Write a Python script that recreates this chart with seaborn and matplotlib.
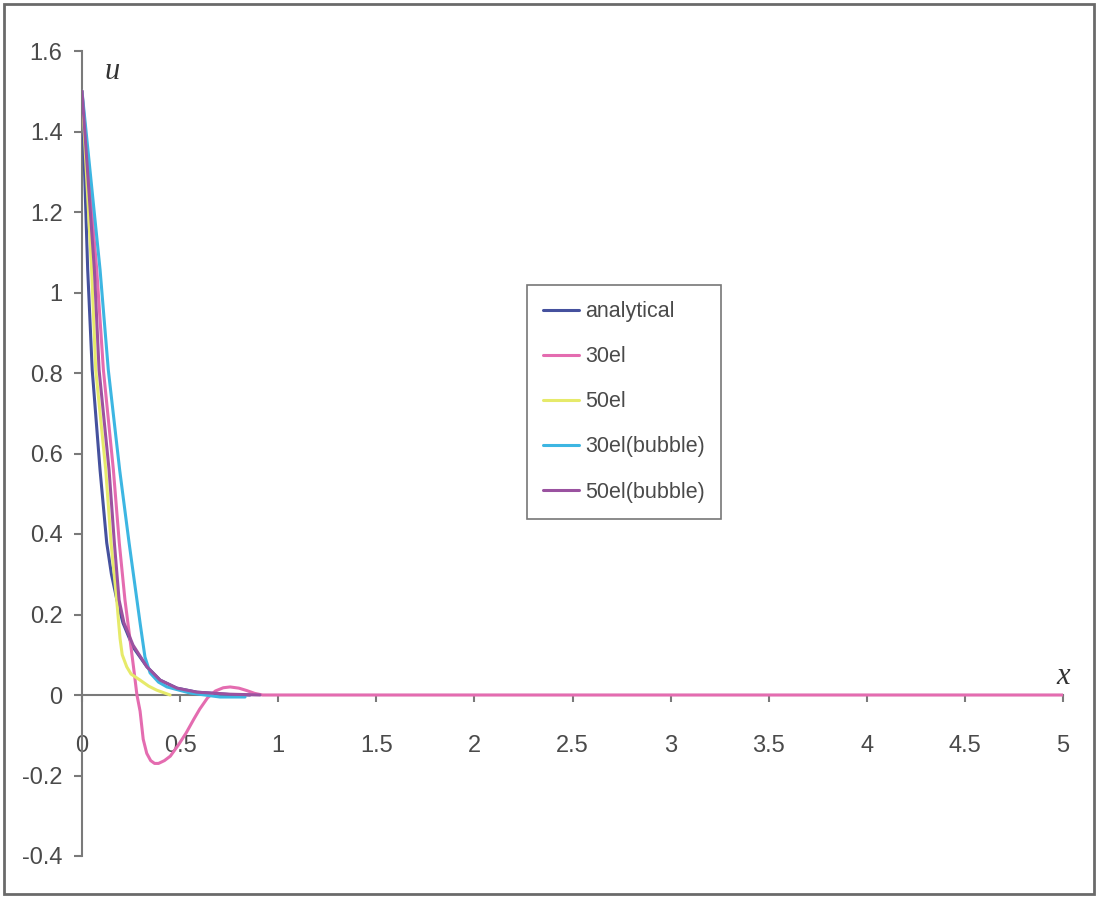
import numpy as np
import pandas as pd
import matplotlib
matplotlib.use("Agg")
import matplotlib.pyplot as plt
import seaborn as sns
from matplotlib.patches import Rectangle

# ---- data ----
series_names = ["analytical", "30el", "50el", "30el(bubble)", "50el(bubble)"]

x_analytical = [0.0, 0.029, 0.052, 0.092, 0.126, 0.150, 0.178, 0.209, 0.260, 0.331, 0.398, 0.484, 0.586, 0.754, 0.856]
u_analytical = [1.50, 1.057, 0.808, 0.559, 0.378, 0.300, 0.236, 0.179, 0.119, 0.070, 0.037, 0.017, 0.007, 0.001, 0.0]

x_30el = [0.0, 0.075, 0.109, 0.160, 0.190, 0.219, 0.245, 0.265, 0.280, 0.296, 0.312, 0.330, 0.350,
          0.370, 0.390, 0.420, 0.450, 0.490, 0.530, 0.570, 0.600, 0.640, 0.680, 0.720, 0.755,
          0.800, 0.840, 0.880, 0.920, 1.0, 5.0]
u_30el = [1.50, 1.057, 0.808, 0.559, 0.378, 0.236, 0.137, 0.060, 0.0, -0.040, -0.110, -0.145, -0.163,
          -0.170, -0.170, -0.163, -0.152, -0.125, -0.095, -0.060, -0.035, -0.007, 0.010, 0.018, 0.020,
          0.017, 0.011, 0.004, 0.0, 0.0, 0.0]

x_50el = [0.0, 0.049, 0.070, 0.121, 0.148, 0.177, 0.185, 0.194, 0.205, 0.228, 0.250, 0.296, 0.340, 0.381, 0.449]
u_50el = [1.50, 1.057, 0.808, 0.559, 0.378, 0.236, 0.190, 0.140, 0.100, 0.070, 0.052, 0.037, 0.022, 0.012, 0.0]

x_30el_b = [0.0, 0.092, 0.134, 0.192, 0.240, 0.280, 0.296, 0.321, 0.347, 0.390, 0.433, 0.550, 0.703, 0.831]
u_30el_b = [1.50, 1.057, 0.808, 0.559, 0.378, 0.236, 0.179, 0.094, 0.055, 0.032, 0.020, 0.005, -0.005, -0.005]

x_50el_b = [0.0, 0.063, 0.087, 0.138, 0.165, 0.189, 0.214, 0.260, 0.331, 0.398, 0.484, 0.586, 0.754, 0.907]
u_50el_b = [1.50, 1.057, 0.808, 0.559, 0.378, 0.236, 0.179, 0.124, 0.070, 0.037, 0.017, 0.007, 0.002, 0.0]

x_ticks = [0, 0.5, 1, 1.5, 2, 2.5, 3, 3.5, 4, 4.5, 5]
x_tick_labels = ["0", "0.5", "1", "1.5", "2", "2.5", "3", "3.5", "4", "4.5", "5"]
y_ticks = [-0.4, -0.2, 0, 0.2, 0.4, 0.6, 0.8, 1.0, 1.2, 1.4, 1.6]
y_tick_labels = ["-0.4", "-0.2", "0", "0.2", "0.4", "0.6", "0.8", "1", "1.2", "1.4", "1.6"]

colors = {"analytical": "#45519E", "30el": "#E46CB0", "50el": "#E6EA6A",
          "30el(bubble)": "#3DB6E2", "50el(bubble)": "#9A52A0"}

frames = []
for name, xs, us in [("analytical", x_analytical, u_analytical),
                     ("30el", x_30el, u_30el),
                     ("50el", x_50el, u_50el),
                     ("30el(bubble)", x_30el_b, u_30el_b),
                     ("50el(bubble)", x_50el_b, u_50el_b)]:
    frames.append(pd.DataFrame({"x": xs, "u": us, "series": name}))
df = pd.concat(frames, ignore_index=True)

sns.set_style("white")
plt.rcParams["font.family"] = ["Liberation Sans", "DejaVu Sans"]

fig = plt.figure(figsize=(10.98, 8.98), dpi=100)
ax = fig.add_axes([82 / 1098, 1 - 856 / 898, (1063 - 82) / 1098, (856 - 51) / 898])

sns.lineplot(data=df, x="x", y="u", hue="series", hue_order=series_names,
             palette=colors, estimator=None, sort=False, linewidth=2.2, ax=ax, legend=True,
             zorder=3)

ax.set_xlim(0, 5)
ax.set_ylim(-0.4, 1.6)

gray = "#7a7a7a"
txt = "#4a4a4a"
for s in ["top", "right"]:
    ax.spines[s].set_visible(False)
ax.spines["left"].set_color(gray)
ax.spines["left"].set_linewidth(1.5)
ax.spines["left"].set_position(("data", 0))
ax.spines["bottom"].set_color(gray)
ax.spines["bottom"].set_linewidth(1.5)
ax.spines["bottom"].set_position(("data", 0))
ax.spines["left"].set_zorder(2)
ax.spines["bottom"].set_zorder(2)

ax.set_xticks(x_ticks)
ax.set_xticklabels(x_tick_labels)
ax.set_yticks(y_ticks)
ax.set_yticklabels(y_tick_labels)
ax.tick_params(axis="x", direction="out", length=5, width=1.5, color=gray,
               pad=24, labelsize=17, labelcolor=txt, bottom=True)
ax.tick_params(axis="y", direction="out", length=6, width=1.5, color=gray,
               pad=8, labelsize=17, labelcolor=txt, left=True)
ax.set_xlabel("")
ax.set_ylabel("")

ax.text(0.153, 1.55, "u", fontsize=22, fontstyle="italic", family="Liberation Serif",
        color="#333333", ha="center", va="center")
ax.text(5.0, 0.047, "x", fontsize=22, fontstyle="italic", family="Liberation Serif",
        color="#333333", ha="center", va="center")

handles, labels = ax.get_legend_handles_labels()
leg = ax.legend(handles, labels, loc="upper left",
                bbox_to_anchor=(527 / 1098, 1 - 285 / 898), bbox_transform=fig.transFigure,
                frameon=True, fancybox=False, fontsize=15.5, handlelength=1.65,
                handletextpad=0.3, labelspacing=1.12, borderpad=0.75, borderaxespad=0)
leg.get_frame().set_edgecolor("#555555")
leg.get_frame().set_linewidth(1.2)
for t in leg.get_texts():
    t.set_color(txt)
for line in leg.get_lines():
    line.set_linewidth(2.2)

fig.patches.append(Rectangle((4 / 1098, 4 / 898), 1 - 8 / 1098, 1 - 8 / 898,
                             transform=fig.transFigure, fill=False,
                             edgecolor="#6a6a6a", linewidth=2))

fig.savefig("out.png", dpi=100, facecolor="white")
